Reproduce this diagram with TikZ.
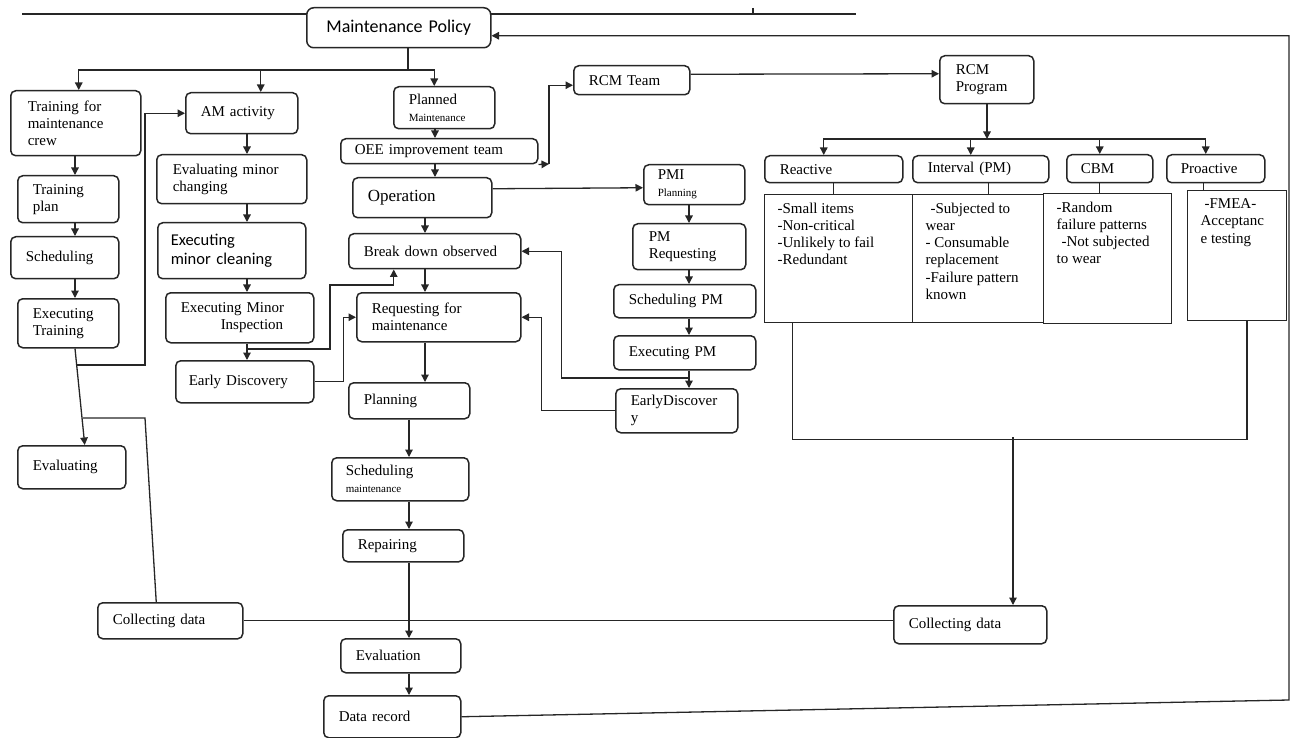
\documentclass[tikz,border=0pt]{standalone}
\usepackage{fontspec}
\setmainfont{Liberation Serif}
\newfontfamily\calibri{Carlito}
\usetikzlibrary{arrows.meta}

\tikzset{
  box/.style={draw=black!85, line width=1.5pt, rounded corners=5pt, fill=white,
    anchor=north west, align=left, inner xsep=15pt, inner ysep=2pt,
    font=\fontsize{15}{17}\selectfont},
  wh/.style 2 args={minimum width=#1pt, minimum height=#2pt},
  desc/.style={draw=black!85, line width=1.2pt, anchor=north west,
    inner xsep=13pt, inner ysep=8pt, font=\fontsize{15}{17.3}\selectfont},
  conn/.style={black!85, line width=1.3pt},
  arr/.style={conn, -{Triangle[length=7.5pt,width=7.5pt]}}
}

\begin{document}
\begin{tikzpicture}[x=1pt,y=-1pt]
\useasboundingbox (0,0) rectangle (1291,738);
\draw [conn] (22,14) -- (856,14);
\draw [conn] (753,8) -- (753,14);

\node[box, wh={184}{40}, text width=154pt, align=center, rounded corners=7pt,
  font=\calibri\fontsize{18}{20}\selectfont] (mp) at (306,7) {Maintenance Policy};

% training
\node[box, wh={130}{65}, inner xsep=17pt, text width=96pt] (train) at (10,90) {Training for\\maintenance\\crew};
\node[box, wh={101}{47}, text width=71pt] (tplan) at (17,175) {Training\\plan};
\node[box, wh={108}{42}, text width=78pt] (sched) at (10,236) {Scheduling};
\node[box, wh={101}{49}, text width=71pt] (exectr) at (17,298) {Executing\\Training};
\node[box, wh={108}{43}, text width=78pt] (evalg) at (17,445) {Evaluating};
\node[box, wh={145}{36}, text width=115pt] (coll1) at (97,602) {Collecting data};

% autonomous maintenance
\node[box, wh={112}{41}, text width=82pt] (am) at (185,92) {AM activity};
\node[box, wh={150}{49}, inner xsep=16pt, text width=118pt] (evmin) at (156,154) {Evaluating minor\\changing};
\node[box, wh={148}{56}, inner xsep=13pt, text width=122pt,
  font=\calibri\fontsize{16.5}{19}\selectfont] (exclean) at (157,222) {Executing\\minor cleaning};
\node[box, wh={148}{50}, text width=118pt] (exinsp) at (165,292) {Executing Minor\\\hspace*{40pt}Inspection};
\node[box, wh={138}{42}, inner xsep=13pt, text width=112pt] (early1) at (175,360) {Early Discovery};

% planned maintenance
\node[box, wh={101}{42}, text width=71pt] (planned) at (393,86) {Planned\\{\fontsize{11}{12}\selectfont Maintenance}};
\node[box, wh={197}{25}, inner xsep=14pt, text width=169pt] (oee) at (340,138) {OEE improvement team};
\node[box, wh={139}{40}, text width=109pt, font=\fontsize{17}{19}\selectfont] (oper) at (352,177) {Operation};
\node[box, wh={172}{35}, text width=142pt] (brk) at (348,233) {Break down observed};
\node[box, wh={164}{49}, text width=134pt] (req) at (356,292) {Requesting for\\maintenance};
\node[box, wh={121}{36}, text width=91pt] (plan) at (348,382) {Planning};
\node[box, wh={137}{43}, inner xsep=14pt, text width=109pt] (schm) at (331,457) {Scheduling\\{\fontsize{11}{12}\selectfont maintenance}};
\node[box, wh={121}{32}, text width=91pt] (rep) at (342,529) {Repairing};
\node[box, wh={120}{34}, text width=90pt] (evaln) at (340,638) {Evaluation};
\node[box, wh={137}{42}, text width=107pt] (drec) at (323,695) {Data record};

% PM
\node[box, wh={116}{29}, text width=86pt] (rcmt) at (573,65) {RCM Team};
\node[box, wh={101}{40}, inner xsep=14pt, text width=73pt] (pmi) at (643,164) {PMI\\{\fontsize{11}{12}\selectfont Planning}};
\node[box, wh={113}{46}, inner xsep=16pt, text width=81pt] (pmreq) at (632,223) {PM\\Requesting};
\node[box, wh={142}{33}, text width=112pt] (schpm) at (613,284) {Scheduling PM};
\node[box, wh={142}{34}, text width=112pt] (expm) at (613,335) {Executing PM};
\node[box, wh={122}{44}, text width=92pt] (early2) at (615,388) {EarlyDiscover\\y};

% RCM
\node[box, wh={94}{48}, inner xsep=16pt, text width=62pt] (rcmp) at (939,55) {RCM\\Program};
\node[box, wh={138}{27}, text width=108pt] (reac) at (764,155) {Reactive};
\node[box, wh={136}{27}, text width=106pt] (intv) at (912,155) {Interval (PM)};
\node[box, wh={86}{28}, inner xsep=14pt, text width=58pt] (cbm) at (1066,154) {CBM};
\node[box, wh={98}{28}, inner xsep=14pt, text width=70pt] (proa) at (1166,154) {Proactive};
\node[desc] (dreac) at (764,194) {\parbox[c][112pt][t]{122pt}{-Small items\\-Non-critical\\-Unlikely to fail\\-Redundant}};
\node[desc] (dintv) at (912,194) {\parbox[c][112pt][t]{105pt}{\hspace*{5pt}-Subjected to\\wear\\- Consumable\\replacement\\-Failure pattern\\known}};
\node[desc] (dcbm) at (1043,193) {\parbox[c][114pt][t]{102pt}{-Random\\failure patterns\\\hspace*{5pt}-Not subjected\\to wear}};
\node[desc] (dproa) at (1187,190) {\parbox[c][114pt][t]{73pt}{\hspace*{4pt}-FMEA-\\Acceptanc\\e testing}};
\node[box, wh={153}{38}, text width=123pt] (coll2) at (893,605) {Collecting data};

% connectors
\coordinate (top) at (408,70);
\coordinate (c1) at (75,0);
\coordinate (c2) at (247,0);
\coordinate (c3) at (435,0);
\coordinate (c4) at (425,0);
\coordinate (c5) at (409,0);
\coordinate (c6) at (689,0);
\draw [conn] (mp.south -| top) -- (top);
\draw [arr] (top) -| ([xshift=3pt]train.north);
\draw [arr] (top) -| ([xshift=19pt]am.north);
\draw [arr] (top) -| ([xshift=-10pt]planned.north);
\foreach \a/\b/\c in {train/tplan/c1, tplan/sched/c1, sched/exectr/c1,
  am/evmin/c2, evmin/exclean/c2, exclean/exinsp/c2, exinsp/early1/c2,
  planned/oee/c3, oee/oper/c3, oper/brk/c4, brk/req/c4, req/plan/c4,
  plan/schm/c5, schm/rep/c5, rep/evaln/c5, evaln/drec/c5,
  pmi/pmreq/c6, pmreq/schpm/c6, schpm/expm/c6, expm/early2/c6}
{	\draw [arr] (\a.south -| \c) -- (\b.north -| \c);
}
\draw [arr] (exectr.south -| c1) -- ([xshift=13pt]evalg.north);

\coordinate (b1) at (77,365);
\coordinate (b2) at (83,418);
\coordinate (b3) at (247,349);
\coordinate (b4) at (689,378);
\draw [arr] (b1) -- ++(68,0) |- (am.west);
\draw [conn] (b2) -- ++(62,0) -- ([xshift=-14pt]coll1.north);
\draw [arr] (b3) -| ++(83,-64) -| ([xshift=-41pt]brk.south);
\draw [arr] (early1.east) -- ++(29,0) |- (req.west);
\draw [arr] ([yshift=9pt]oper.east) -- ([yshift=-3pt]pmi.west);
\draw [arr] (b4) -| ([xshift=40pt]brk.east) -- (brk.east);
\draw [arr] (early2.west) -| ([xshift=20pt]req.east) -- (req.east);

\coordinate (k) at (549,164);
\draw [arr] (oee.south east) -- (k);
\draw [arr] (k) |- ([yshift=-5pt]rcmt.west);
\draw [arr] ([yshift=6pt]rcmt.east) -- ([yshift=6pt]rcmp.west);

\coordinate (j2) at (987,139);
\draw [arr] (rcmp.south -| j2) -- (j2);
\foreach \n in {reac,intv,cbm,proa}
{	\draw [arr] (j2) -| ([xshift=-10pt]\n.north);
}
\foreach \a/\b/\s in {reac/dreac/0, intv/dintv/8, cbm/dcbm/-10, proa/dproa/-12}
{	\draw [conn] ([xshift=\s pt]\a.south) -- ([xshift=\s pt]\a.south |- \b.north);
}
\draw [conn] ([xshift=-46pt]dreac.south) -- ++(0,116) -| ([xshift=10pt]dproa.south);
\coordinate (j3) at (1013,437);
\draw [arr] (j3) -- (coll2.north -| j3);
\draw [conn] (coll1.east) -- (coll1.east -| coll2.west);

\coordinate (rc) at (1289,700);
\draw [arr] (drec.east) -- (rc) |- ([yshift=-8pt]mp.east);
\end{tikzpicture}
\end{document}
